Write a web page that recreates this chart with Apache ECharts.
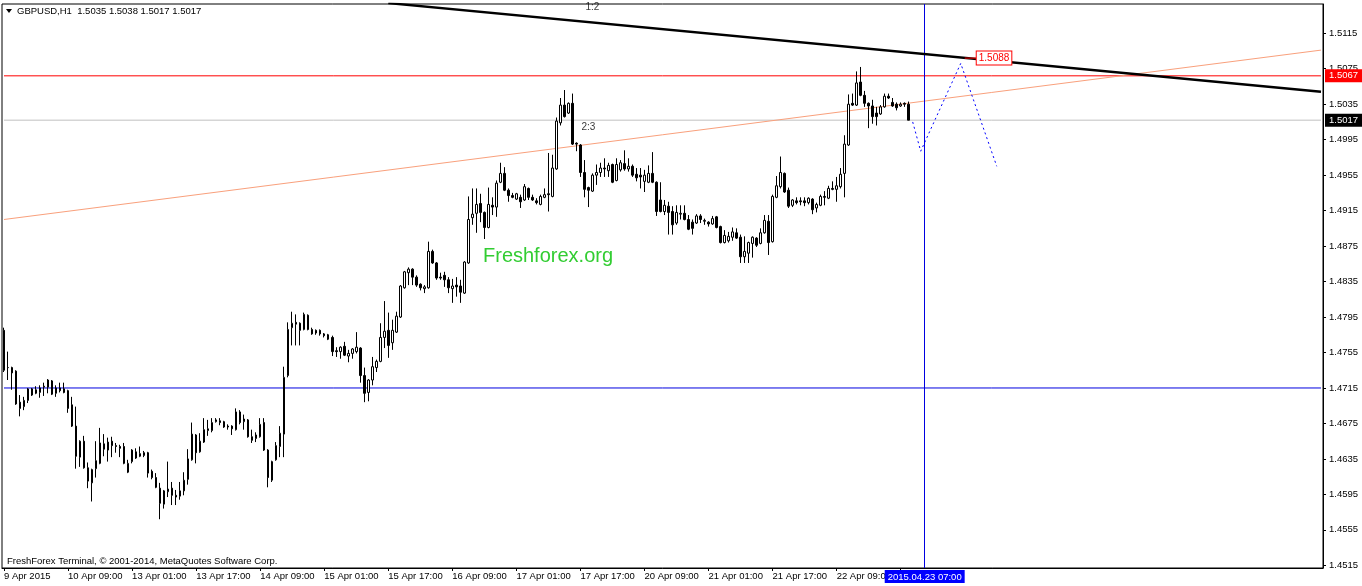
<!DOCTYPE html>
<html><head><meta charset="utf-8">
<script src="https://cdn.jsdelivr.net/npm/echarts@6/dist/echarts.min.js"></script>
<style>html,body{margin:0;padding:0;background:#fff}#c{width:1362px;height:586px}</style>
</head><body><div id="c"></div>
<script>
// ---- data (GBPUSD H1) ----
const headerText = "GBPUSD,H1  1.5035 1.5038 1.5017 1.5017";
const copyrightText = "FreshForex Terminal, \u00a9 2001-2014, MetaQuotes Software Corp.";
const watermarkText = "Freshforex.org";
const tickLabels = ["9 Apr 2015","10 Apr 09:00","13 Apr 01:00","13 Apr 17:00","14 Apr 09:00","15 Apr 01:00","15 Apr 17:00","16 Apr 09:00","17 Apr 01:00","17 Apr 17:00","20 Apr 09:00","21 Apr 01:00","21 Apr 17:00","22 Apr 09:00",""];
const yTicks = [1.4515,1.4555,1.4595,1.4635,1.4675,1.4715,1.4755,1.4795,1.4835,1.4875,1.4915,1.4955,1.4995,1.5035,1.5075,1.5115];

const open = [
1.4780,1.4738,1.4738,1.4734,1.4699,1.4694,1.4701,1.4714,1.4709,1.4710,
1.4716,1.4716,1.4723,1.4709,1.4715,1.4714,1.4712,1.4696,1.4672,1.4637,
1.4655,1.4625,1.4608,1.4624,1.4630,1.4652,1.4645,1.4655,1.4650,1.4649,
1.4649,1.4620,1.4632,1.4643,1.4638,1.4642,1.4642,1.4621,1.4614,1.4602,
1.4584,1.4598,1.4602,1.4594,1.4593,1.4599,1.4612,1.4634,1.4662,1.4643,
1.4654,1.4667,1.4667,1.4677,1.4678,1.4677,1.4672,1.4672,1.4668,1.4688,
1.4677,1.4679,1.4660,1.4658,1.4660,1.4676,1.4645,1.4611,1.4634,1.4649,
1.4663,1.4729,1.4783,1.4789,1.4788,1.4781,1.4797,1.4781,1.4780,1.4780,
1.4776,1.4775,1.4772,1.4757,1.4756,1.4762,1.4751,1.4754,1.4756,1.4760,
1.4729,1.4710,1.4724,1.4738,1.4745,1.4772,1.4780,1.4766,1.4778,1.4795,
1.4828,1.4845,1.4849,1.4840,1.4832,1.4827,1.4828,1.4869,1.4856,1.4840,
1.4842,1.4837,1.4827,1.4831,1.4830,1.4822,1.4856,1.4907,1.4912,1.4923,
1.4913,1.4896,1.4921,1.4919,1.4947,1.4957,1.4938,1.4932,1.4928,1.4930,
1.4927,1.4940,1.4930,1.4926,1.4922,1.4930,1.4934,1.4931,1.4962,1.5014,
1.5034,1.5025,1.5036,1.4991,1.4989,1.4958,1.4941,1.4937,1.4955,1.4958,
1.4963,1.4960,1.4967,1.4949,1.4961,1.4968,1.4962,1.4965,1.4956,1.4955,
1.4948,1.4947,1.4957,1.4947,1.4927,1.4914,1.4920,1.4914,1.4901,1.4911,
1.4912,1.4905,1.4902,1.4901,1.4909,1.4903,1.4902,1.4900,1.4908,1.4897,
1.4879,1.4881,1.4885,1.4890,1.4885,1.4863,1.4867,1.4878,1.4884,1.4878,
1.4890,1.4903,1.4880,1.4930,1.4942,1.4957,1.4938,1.4921,1.4926,1.4926,
1.4926,1.4924,1.4928,1.4918,1.4921,1.4931,1.4929,1.4940,1.4939,1.4942,
1.4957,1.4989,1.5036,1.5034,1.5060,1.5045,1.5036,1.5033,1.5025,1.5024,
1.5032,1.5044,1.5037,1.5035,1.5033,1.5036,1.5035];
const close = [
1.4735,1.4738,1.4732,1.4697,1.4692,1.4701,1.4714,1.4707,1.4713,1.4715,
1.4717,1.4724,1.4708,1.4715,1.4712,1.4710,1.4692,1.4672,1.4638,1.4655,
1.4625,1.4610,1.4623,1.4633,1.4653,1.4646,1.4654,1.4650,1.4649,1.4647,
1.4630,1.4630,1.4645,1.4636,1.4641,1.4639,1.4619,1.4614,1.4603,1.4585,
1.4599,1.4601,1.4594,1.4592,1.4599,1.4611,1.4635,1.4663,1.4642,1.4655,
1.4668,1.4669,1.4676,1.4679,1.4676,1.4671,1.4671,1.4669,1.4688,1.4676,
1.4680,1.4660,1.4656,1.4662,1.4674,1.4645,1.4614,1.4632,1.4650,1.4664,
1.4727,1.4781,1.4788,1.4787,1.4780,1.4798,1.4781,1.4776,1.4777,1.4776,
1.4774,1.4770,1.4756,1.4756,1.4761,1.4752,1.4754,1.4759,1.4761,1.4729,
1.4709,1.4724,1.4739,1.4745,1.4772,1.4779,1.4763,1.4780,1.4796,1.4830,
1.4846,1.4849,1.4840,1.4831,1.4828,1.4829,1.4869,1.4856,1.4839,1.4839,
1.4837,1.4828,1.4830,1.4829,1.4823,1.4857,1.4905,1.4911,1.4922,1.4913,
1.4896,1.4922,1.4919,1.4946,1.4957,1.4938,1.4932,1.4930,1.4934,1.4925,
1.4942,1.4930,1.4927,1.4924,1.4931,1.4933,1.4933,1.4963,1.5016,1.5034,
1.5021,1.5036,1.4990,1.4990,1.4958,1.4939,1.4938,1.4955,1.4958,1.4963,
1.4962,1.4966,1.4947,1.4967,1.4969,1.4962,1.4965,1.4955,1.4952,1.4953,
1.4955,1.4957,1.4947,1.4914,1.4914,1.4921,1.4913,1.4899,1.4913,1.4912,
1.4905,1.4894,1.4895,1.4909,1.4905,1.4904,1.4900,1.4906,1.4896,1.4879,
1.4887,1.4886,1.4891,1.4884,1.4863,1.4869,1.4879,1.4885,1.4876,1.4890,
1.4904,1.4879,1.4931,1.4943,1.4958,1.4936,1.4920,1.4927,1.4924,1.4925,
1.4924,1.4929,1.4916,1.4922,1.4931,1.4930,1.4940,1.4939,1.4943,1.4956,
1.4990,1.5035,1.5034,1.5059,1.5045,1.5036,1.5033,1.5021,1.5021,1.5032,
1.5044,1.5042,1.5033,1.5031,1.5035,1.5035,1.5017];
const low = [
1.4733,1.4724,1.4713,1.4696,1.4683,1.4690,1.4698,1.4706,1.4708,1.4704,
1.4706,1.4709,1.4707,1.4705,1.4710,1.4709,1.4687,1.4671,1.4624,1.4626,
1.4624,1.4602,1.4587,1.4614,1.4629,1.4638,1.4632,1.4637,1.4642,1.4637,
1.4629,1.4619,1.4630,1.4635,1.4637,1.4637,1.4614,1.4612,1.4602,1.4567,
1.4579,1.4592,1.4583,1.4583,1.4589,1.4594,1.4606,1.4633,1.4630,1.4642,
1.4653,1.4661,1.4665,1.4676,1.4673,1.4670,1.4668,1.4662,1.4667,1.4674,
1.4668,1.4659,1.4653,1.4654,1.4659,1.4644,1.4603,1.4609,1.4633,1.4637,
1.4637,1.4727,1.4763,1.4763,1.4763,1.4780,1.4780,1.4775,1.4775,1.4774,
1.4772,1.4769,1.4751,1.4750,1.4748,1.4751,1.4744,1.4748,1.4754,1.4721,
1.4699,1.4700,1.4718,1.4733,1.4744,1.4760,1.4749,1.4758,1.4777,1.4794,
1.4827,1.4831,1.4831,1.4829,1.4825,1.4822,1.4827,1.4855,1.4837,1.4837,
1.4829,1.4822,1.4811,1.4818,1.4811,1.4821,1.4855,1.4899,1.4890,1.4902,
1.4883,1.4895,1.4910,1.4908,1.4946,1.4937,1.4925,1.4929,1.4927,1.4918,
1.4926,1.4927,1.4926,1.4922,1.4921,1.4929,1.4914,1.4930,1.4961,1.5011,
1.5020,1.5024,1.4989,1.4982,1.4953,1.4930,1.4919,1.4936,1.4944,1.4953,
1.4953,1.4953,1.4946,1.4948,1.4959,1.4960,1.4959,1.4953,1.4948,1.4940,
1.4936,1.4946,1.4946,1.4909,1.4913,1.4910,1.4888,1.4888,1.4899,1.4905,
1.4904,1.4893,1.4888,1.4900,1.4901,1.4899,1.4897,1.4899,1.4895,1.4878,
1.4878,1.4879,1.4881,1.4883,1.4856,1.4856,1.4856,1.4862,1.4874,1.4877,
1.4889,1.4865,1.4879,1.4929,1.4940,1.4935,1.4918,1.4919,1.4922,1.4921,
1.4920,1.4922,1.4911,1.4913,1.4920,1.4921,1.4928,1.4938,1.4925,1.4940,
1.4930,1.4988,1.5033,1.5033,1.5044,1.5032,1.5008,1.5013,1.5011,1.5023,
1.5031,1.5041,1.5032,1.5028,1.5032,1.5032,1.5017];
const high = [
1.4783,1.4756,1.4739,1.4735,1.4707,1.4705,1.4715,1.4715,1.4717,1.4718,
1.4721,1.4725,1.4724,1.4718,1.4721,1.4721,1.4713,1.4705,1.4694,1.4656,
1.4661,1.4631,1.4624,1.4655,1.4670,1.4663,1.4659,1.4660,1.4653,1.4651,
1.4653,1.4634,1.4646,1.4647,1.4649,1.4644,1.4643,1.4623,1.4619,1.4608,
1.4600,1.4632,1.4609,1.4600,1.4609,1.4620,1.4646,1.4676,1.4663,1.4664,
1.4681,1.4679,1.4681,1.4681,1.4681,1.4678,1.4674,1.4673,1.4692,1.4690,
1.4685,1.4680,1.4668,1.4665,1.4681,1.4681,1.4646,1.4633,1.4654,1.4672,
1.4739,1.4789,1.4801,1.4798,1.4789,1.4800,1.4798,1.4783,1.4781,1.4781,
1.4777,1.4776,1.4774,1.4761,1.4762,1.4767,1.4758,1.4760,1.4778,1.4761,
1.4738,1.4725,1.4750,1.4747,1.4788,1.4813,1.4800,1.4792,1.4801,1.4831,
1.4847,1.4851,1.4850,1.4842,1.4833,1.4831,1.4880,1.4871,1.4857,1.4845,
1.4846,1.4840,1.4838,1.4840,1.4837,1.4858,1.4931,1.4940,1.4940,1.4934,
1.4914,1.4941,1.4930,1.4949,1.4969,1.4964,1.4940,1.4935,1.4935,1.4933,
1.4945,1.4941,1.4933,1.4929,1.4933,1.4940,1.4980,1.4978,1.5020,1.5042,
1.5051,1.5037,1.5047,1.4992,1.4990,1.4972,1.4942,1.4957,1.4967,1.4969,
1.4974,1.4969,1.4968,1.4974,1.4972,1.4983,1.4974,1.4967,1.4963,1.4963,
1.4961,1.4966,1.4981,1.4948,1.4947,1.4927,1.4925,1.4920,1.4921,1.4921,
1.4921,1.4910,1.4905,1.4911,1.4911,1.4906,1.4903,1.4909,1.4909,1.4898,
1.4893,1.4891,1.4896,1.4895,1.4888,1.4886,1.4880,1.4886,1.4885,1.4895,
1.4910,1.4910,1.4933,1.4954,1.4976,1.4958,1.4941,1.4928,1.4930,1.4930,
1.4930,1.4930,1.4929,1.4924,1.4933,1.4937,1.4943,1.4948,1.4953,1.4963,
1.5000,1.5046,1.5047,1.5072,1.5077,1.5050,1.5037,1.5040,1.5032,1.5034,
1.5047,1.5047,1.5042,1.5037,1.5037,1.5037,1.5038];

const firstBarUTC = [2015, 3, 9, 17];   // 9 Apr 2015 17:00
const totalSlots = 330;                  // bars incl. empty future space
const resistanceLine = [[96, 1.5149], [329, 1.5049]];
const channelLine = [[0, 1.4905], [329, 1.5096]];
const forecastPath = [[227, 1.5015], [229, 1.4982], [239, 1.5081], [248, 1.4965]];
const targetMark = [[240, 1.5087], [243, 1.5087]];
const targetText = "1.5088";
const levelRed = 1.5067, levelBid = 1.5017, levelBlue = 1.4715;
const cursorBar = 230, cursorText = "2015.04.23 07:00";
const notes = [{name: "1:2", value: [147, 1.5144]}, {name: "2:3", value: [146, 1.5009]}];
const yMin = 1.4512, yMax = 1.5148;

// ---- build ----
const FONT = "Liberation Sans";
const FS = 9.5;
const lastSlot = totalSlots - 1;
const pad = n => (n < 10 ? "0" : "") + n;
const cats = [];
let t = Date.UTC(firstBarUTC[0], firstBarUTC[1], firstBarUTC[2], firstBarUTC[3]);
while (cats.length < totalSlots) {
  const d = new Date(t);
  const wd = d.getUTCDay();
  if (wd !== 0 && wd !== 6) cats.push(d.getUTCFullYear() + "." + pad(d.getUTCMonth() + 1) + "." + pad(d.getUTCDate()) + " " + pad(d.getUTCHours()) + ":00");
  t += 3600000;
}
const candles = open.map((o, i) => [o, close[i], low[i], high[i]]);
const levelSeries = (lv, color, bg, z) => ({
  type: "line", data: [[0, lv], [lastSlot, lv]], showSymbol: false, silent: true, z: z,
  lineStyle: {color: color, width: 1},
  endLabel: bg ? {show: true, formatter: lv.toFixed(4), distance: 4, color: "#fff", backgroundColor: bg,
    padding: [2, 4, 1, 4], fontSize: FS, lineHeight: 10, fontFamily: FONT} : {show: false}
});

const chart = echarts.init(document.getElementById("c"), null, {renderer: "canvas"});
chart.setOption({
  animation: false,
  backgroundColor: "#fff",
  textStyle: {fontFamily: FONT},
  grid: {left: 2, right: 39, top: 4, bottom: 18, show: true, borderColor: "#000", borderWidth: 1, backgroundColor: "#fff"},
  xAxis: {
    type: "category", data: cats, boundaryGap: true,
    axisLine: {show: true, lineStyle: {color: "#000", width: 1}},
    axisTick: {show: true, alignWithLabel: true, length: 3, interval: i => i % 16 === 0 && i <= 224, lineStyle: {color: "#000"}},
    axisLabel: {interval: i => i % 16 === 0 && i < 224, formatter: (v, i) => tickLabels[Math.round(i / 16)] || "",
      align: "left", margin: 3, color: "#000", fontSize: FS, fontFamily: FONT},
    splitLine: {show: false}
  },
  yAxis: {
    type: "value", position: "right", min: yMin, max: yMax,
    axisLine: {show: true, lineStyle: {color: "#000"}},
    axisTick: {show: true, length: 3, customValues: yTicks, lineStyle: {color: "#000"}},
    axisLabel: {customValues: yTicks, formatter: v => v.toFixed(4), margin: 6, color: "#000", fontSize: FS, fontFamily: FONT},
    splitLine: {show: false}
  },
  graphic: [
    {type: "polygon", shape: {points: [[6, 9], [12, 9], [9, 13]]}, style: {fill: "#000"}, z: 100},
    {type: "text", left: 17, top: 6, style: {text: headerText, fill: "#000", font: FS + "px " + FONT}, z: 100},
    {type: "text", left: 7, top: 556, style: {text: copyrightText, fill: "#000", font: FS + "px " + FONT}, z: 100},
    {type: "text", left: 483, top: 246, style: {text: watermarkText, fill: "#32cd32", font: "20px " + FONT}, z: 1}
  ],
  series: [
    levelSeries(levelBid, "#c0c0c0", "#000", 1),
    levelSeries(levelRed, "#ff0000", "#ff0000", 1),
    levelSeries(levelBlue, "#0000e0", null, 1),
    {
      type: "line", data: channelLine, showSymbol: false, silent: true, z: 2,
      lineStyle: {color: "#f9a07c", width: 1},
      markLine: {
        silent: true, symbol: ["none", "none"], animation: false,
        data: [
          {xAxis: cursorBar, lineStyle: {color: "#0000e0", width: 1, type: "solid"},
           label: {show: true, position: "start", distance: 2, formatter: cursorText, color: "#fff", backgroundColor: "#0000ff", padding: [2, 3, 1, 3], fontSize: FS, lineHeight: 10, fontFamily: FONT}}
        ]
      }
    },
    {
      type: "candlestick", data: candles, barWidth: 2, z: 5, silent: true,
      itemStyle: {color: "#fff", color0: "#000", borderColor: "#000", borderColor0: "#000", borderWidth: 1}
    },
    {
      type: "line", data: forecastPath, showSymbol: false, silent: true, z: 4,
      lineStyle: {color: "#0000ff", width: 1, type: [2, 3]}
    },
    {
      type: "line", data: resistanceLine, showSymbol: false, silent: true, z: 6,
      lineStyle: {color: "#000", width: 2.5}
    },
    {
      type: "line", data: targetMark, showSymbol: false, silent: true, z: 7,
      lineStyle: {color: "#ff0000", width: 1},
      endLabel: {show: true, formatter: targetText, distance: 0, color: "#ff0000", backgroundColor: "#fff", borderColor: "#ff0000", borderWidth: 1, padding: [2, 2, 1, 2], fontSize: 10, lineHeight: 10, fontFamily: FONT}
    },
    {
      type: "scatter", data: notes, symbolSize: 1, silent: true, z: 8, clip: false,
      itemStyle: {color: "rgba(0,0,0,0)"},
      label: {show: true, position: "inside", formatter: "{b}", color: "#000", textBorderWidth: 0, fontSize: 10, fontFamily: FONT}
    }
  ]
});
</script>
</body></html>
